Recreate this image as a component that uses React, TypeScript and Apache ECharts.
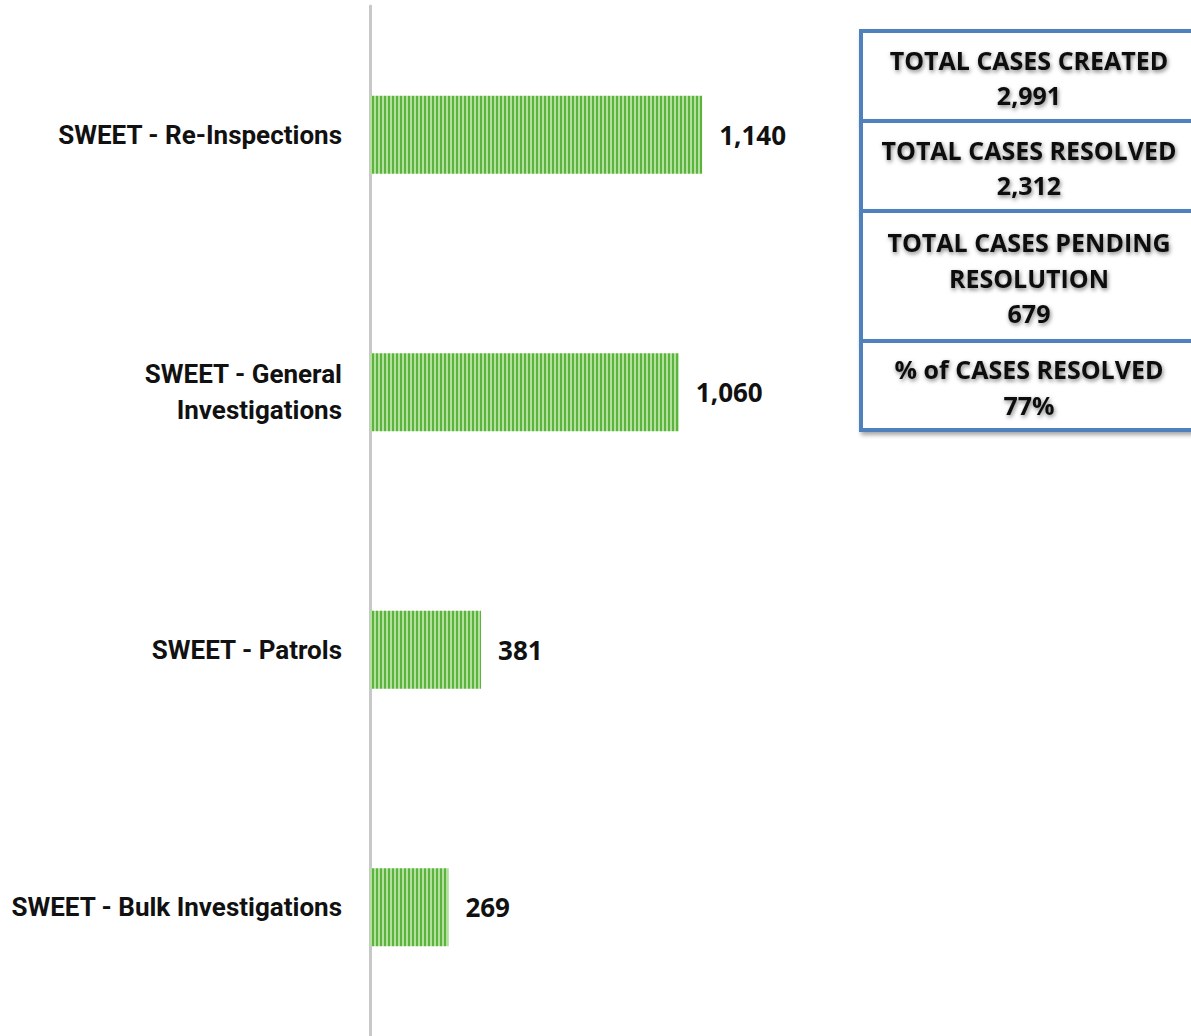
import React, { useEffect, useRef } from "react";
import * as echarts from "echarts";

const categories = [
  "SWEET - Re-Inspections",
  "SWEET - General\nInvestigations",
  "SWEET - Patrols",
  "SWEET - Bulk Investigations",
];
const values = [1140, 1060, 381, 269];

const summaryBoxes = [
  { lines: ["TOTAL CASES CREATED", "2,991"] },
  { lines: ["TOTAL CASES RESOLVED", "2,312"] },
  { lines: ["TOTAL CASES PENDING", "RESOLUTION", "679"] },
  { lines: ["% of CASES RESOLVED", "77%"] },
];

function makeStripe(): HTMLCanvasElement {
  const c = document.createElement("canvas");
  c.width = 4;
  c.height = 4;
  const ctx = c.getContext("2d")!;
  ctx.fillStyle = "#b4e09e";
  ctx.fillRect(0, 0, 4, 4);
  ctx.fillStyle = "#5ab43e";
  ctx.fillRect(0, 0, 2, 4);
  return c;
}

export default function App() {
  const ref = useRef<HTMLDivElement>(null);
  useEffect(() => {
    if (!ref.current) return;
    const chart = echarts.init(ref.current, undefined, { renderer: "svg" });
    const boxTop = [31, 121, 211, 341];
    const boxBottom = [121, 211, 341, 430];
    const graphics: any[] = [];
    summaryBoxes.forEach((b, i) => {
      graphics.push({
        type: "rect",
        z: 10,
        shape: { x: 861, y: boxTop[i], width: 345, height: boxBottom[i] - boxTop[i] },
        style: {
          fill: "#ffffff",
          stroke: "#4f81bd",
          lineWidth: 4,
          shadowBlur: 4,
          shadowOffsetX: 2,
          shadowOffsetY: 3,
          shadowColor: "rgba(0,0,0,0.35)",
        },
      });
    });
    summaryBoxes.forEach((b, i) => {
      const h = boxBottom[i] - boxTop[i];
      const lh = 35.5;
      const total = lh * b.lines.length;
      const startY = boxTop[i] + (h - total) / 2 + lh / 2 + 1.5;
      b.lines.forEach((ln, j) => {
        graphics.push({
          type: "text",
          z: 20,
          x: 1029,
          y: startY + j * lh,
          style: {
            text: ln,
            fill: "#111111",
            font: "bold 25px 'Open Sans'",
            align: "center",
            verticalAlign: "middle",
            textShadowColor: "rgba(0,0,0,0.5)",
            textShadowBlur: 4,
            textShadowOffsetX: 1,
            textShadowOffsetY: 2,
          },
        });
      });
    });

    chart.setOption({
      animation: false,
      backgroundColor: "#ffffff",
      grid: { left: 370, right: 11, top: 6, bottom: -2, containLabel: false },
      xAxis: { type: "value", min: 0, max: 2780, show: false },
      yAxis: {
        type: "category",
        data: categories,
        inverse: true,
        axisLine: { show: true, lineStyle: { color: "#c8c8c8", width: 3 } },
        axisTick: { show: false },
        axisLabel: {
          margin: 28,
          color: "#111111",
          fontFamily: "Roboto",
          fontWeight: "bold",
          fontSize: 26,
          lineHeight: 36,
          align: "right",
        },
      },
      series: [
        {
          type: "bar",
          data: values,
          barWidth: 78,
          itemStyle: {
            color: { image: makeStripe(), repeat: "repeat" } as any,
          },
          label: {
            show: true,
            position: "right",
            distance: 17,
            color: "#111111",
            fontFamily: "Open Sans",
            fontWeight: "bold",
            fontSize: 26,
            formatter: (p: any) => Number(p.value).toLocaleString("en-US"),
          },
        },
      ],
      graphic: graphics,
    });
    return () => chart.dispose();
  }, []);
  return (
    <div
      ref={ref}
      style={{ position: "fixed", left: 0, top: 0, width: 1191, height: 1036, background: "#fff" }}
    />
  );
}
